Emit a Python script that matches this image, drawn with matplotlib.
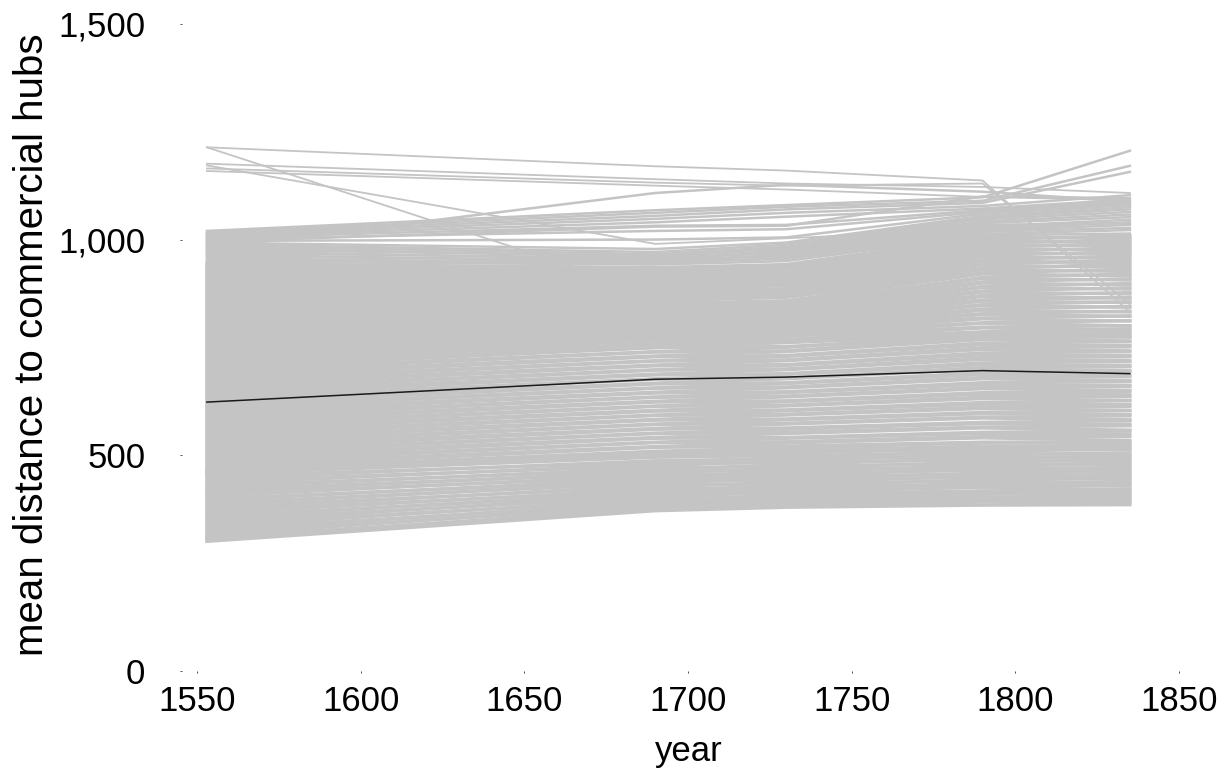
import numpy as np
import matplotlib
matplotlib.use("Agg")
from matplotlib import pyplot as plt
from matplotlib.ticker import StrMethodFormatter

plt.rcParams['font.family'] = ['Liberation Sans', 'DejaVu Sans']

years = [1553, 1690, 1730, 1790, 1835]
mean_dist = [623, 676, 681, 696, 689]

# one row per place: distance at each year
lower_band = [
    [300, 371, 379, 384, 385], [305, 377, 386, 391, 389], [309, 374, 382, 393, 397],
    [314, 386, 391, 396, 392], [319, 381, 389, 402, 406], [323, 393, 398, 401, 399],
    [329, 387, 396, 409, 414], [334, 399, 403, 411, 407], [340, 396, 407, 417, 421],
    [344, 408, 412, 416, 413], [350, 403, 415, 426, 431], [355, 414, 418, 425, 420],
    [359, 411, 423, 434, 439], [365, 421, 425, 432, 428], [370, 418, 429, 443, 447],
    [374, 430, 434, 440, 436], [380, 426, 437, 451, 455], [385, 438, 442, 449, 445],
    [389, 435, 446, 458, 463], [395, 446, 450, 456, 452], [399, 441, 454, 467, 471],
    [405, 454, 457, 465, 460], [410, 450, 462, 475, 480], [414, 462, 466, 472, 468],
    [420, 458, 470, 484, 489], [425, 470, 474, 480, 476], [429, 466, 478, 493, 497],
    [434, 479, 483, 489, 484], [440, 475, 487, 501, 505], [445, 487, 491, 497, 492],
    [451, 483, 494, 509, 514], [456, 495, 499, 505, 500], [458, 500, 505, 514, 512],
    [463, 503, 513, 517, 523],
]

mid_band = [
    [461, 506, 510, 521, 519], [466, 509, 517, 528, 527], [471, 518, 521, 530, 531],
    [477, 520, 528, 540, 534], [482, 529, 531, 543, 543], [487, 530, 539, 550, 549],
    [492, 539, 541, 553, 556], [498, 541, 550, 563, 558], [503, 550, 553, 565, 568],
    [508, 551, 560, 573, 572], [513, 560, 563, 576, 580], [519, 562, 572, 586, 582],
    [524, 571, 574, 588, 591], [529, 572, 582, 596, 594], [534, 581, 584, 599, 603],
    [540, 583, 593, 608, 604], [545, 592, 595, 611, 613], [550, 593, 603, 618, 617],
    [555, 602, 605, 622, 626], [561, 604, 614, 631, 627], [566, 613, 616, 634, 636],
    [571, 614, 624, 641, 640], [576, 623, 626, 645, 648], [582, 625, 635, 654, 650],
    [587, 634, 637, 657, 659], [592, 635, 645, 664, 662], [597, 644, 647, 668, 671],
    [603, 646, 656, 677, 673], [608, 655, 658, 680, 682], [613, 656, 666, 687, 685],
    [618, 665, 668, 691, 694], [624, 667, 677, 700, 696], [629, 676, 679, 703, 705],
    [634, 677, 687, 710, 708], [639, 686, 689, 714, 717], [645, 688, 698, 722, 719],
    [650, 697, 700, 726, 728], [655, 698, 708, 733, 731], [660, 707, 710, 737, 740],
    [666, 709, 719, 745, 742], [671, 718, 721, 749, 751], [676, 719, 729, 756, 754],
    [681, 728, 731, 760, 763], [687, 730, 740, 768, 765], [692, 739, 742, 772, 774],
    [697, 740, 750, 779, 777], [702, 749, 752, 773, 786], [708, 750, 761, 778, 774],
    [713, 757, 762, 785, 783], [718, 758, 768, 786, 793], [723, 765, 768, 795, 790],
    [729, 766, 776, 797, 800], [734, 772, 776, 806, 800], [739, 773, 783, 807, 812],
    [744, 779, 783, 816, 811], [750, 781, 791, 818, 823], [755, 786, 790, 826, 822],
    [760, 788, 797, 828, 834], [765, 793, 797, 836, 832], [771, 794, 804, 839, 845],
    [776, 800, 804, 847, 843], [781, 801, 811, 849, 856], [786, 807, 810, 857, 854],
    [792, 808, 818, 860, 866], [797, 814, 817, 868, 864], [802, 815, 825, 870, 877],
    [807, 821, 824, 878, 874], [813, 822, 832, 881, 888], [818, 828, 831, 889, 885],
    [823, 829, 838, 891, 898], [828, 835, 838, 899, 895], [834, 836, 845, 902, 909],
    [839, 842, 845, 910, 906], [844, 846, 852, 912, 920], [849, 852, 858, 920, 916],
    [855, 858, 866, 923, 931], [860, 861, 870, 930, 926], [865, 866, 872, 933, 941],
    [870, 870, 878, 940, 936], [876, 874, 881, 943, 952], [881, 880, 886, 950, 946],
    [886, 885, 893, 953, 962], [891, 889, 895, 960, 956], [897, 893, 902, 963, 972],
    [902, 898, 905, 969, 966], [907, 902, 911, 972, 981], [912, 906, 914, 979, 976],
    [918, 911, 920, 982, 991], [923, 916, 922, 988, 986], [928, 921, 929, 991, 1000],
    [933, 925, 932, 997, 995], [939, 930, 938, 1000, 1009], [944, 935, 942, 1006, 1004],
]

upper_band = [
    [949, 942, 950, 1010, 1014], [953, 948, 955, 1013, 1022], [957, 944, 958, 1018, 1027],
    [961, 952, 962, 1021, 1034], [965, 949, 965, 1026, 1040], [969, 957, 969, 1030, 1046],
    [973, 954, 972, 1034, 1038], [977, 962, 976, 1038, 1052], [981, 960, 979, 1042, 1058],
    [985, 966, 983, 1047, 1064], [989, 971, 988, 1051, 1070], [993, 978, 993, 1055, 1075],
    [997, 1000, 1005, 1060, 1080], [1001, 1020, 1024, 1064, 1084], [1004, 1032, 1034, 1068, 1088],
    [1007, 1040, 1053, 1072, 1093], [1010, 1048, 1062, 1078, 1103], [1013, 1055, 1070, 1085, 1157],
    [1016, 1062, 1076, 1090, 1171], [1020, 1068, 1080, 1098, 1206], [980, 1108, 1127, 1111, 1088],
    [995, 1030, 1032, 1100, 1096],
]

outliers = [
    [1214, 1170, 1160, 1137, 832], [1214, 875, 900, 930, 948], [1176, 1140, 1130, 1122, 1108],
    [1172, 990, 1003, 1024, 1040], [1165, 1132, 1125, 1130, 850], [1159, 1125, 1116, 1099, 1091],
]

fig = plt.figure(figsize=(12.29, 7.75), dpi=100)
ax = fig.add_axes([0.1481, 0.1346, 0.8245, 0.840])

grey = '#c4c4c4'
for row in lower_band + mid_band:
    ax.plot(years, row, color=grey, lw=2.4)
for row in upper_band:
    ax.plot(years, row, color=grey, lw=1.8)
for row in outliers:
    ax.plot(years, row, color=grey, lw=1.3)

ax.plot(years, mean_dist, color='#1a1a1a', lw=1.1)

ax.set_xlim(1545.4, 1855)
ax.set_ylim(0, 1510)
ax.set_xticks([1550, 1600, 1650, 1700, 1750, 1800, 1850])
ax.set_yticks([0, 500, 1000, 1500])
ax.yaxis.set_major_formatter(StrMethodFormatter('{x:,.0f}'))

for s in ax.spines.values():
    s.set_visible(False)
ax.tick_params(axis='both', length=1.5, width=0.6, color='#333333', labelsize=25)
ax.tick_params(axis='y', pad=25)
ax.tick_params(axis='x', pad=9)

ax.set_xlabel('year', fontsize=25, labelpad=12)
ax.set_ylabel('mean distance to commercial hubs', fontsize=29, labelpad=5)

plt.savefig('out.png', dpi=100)
